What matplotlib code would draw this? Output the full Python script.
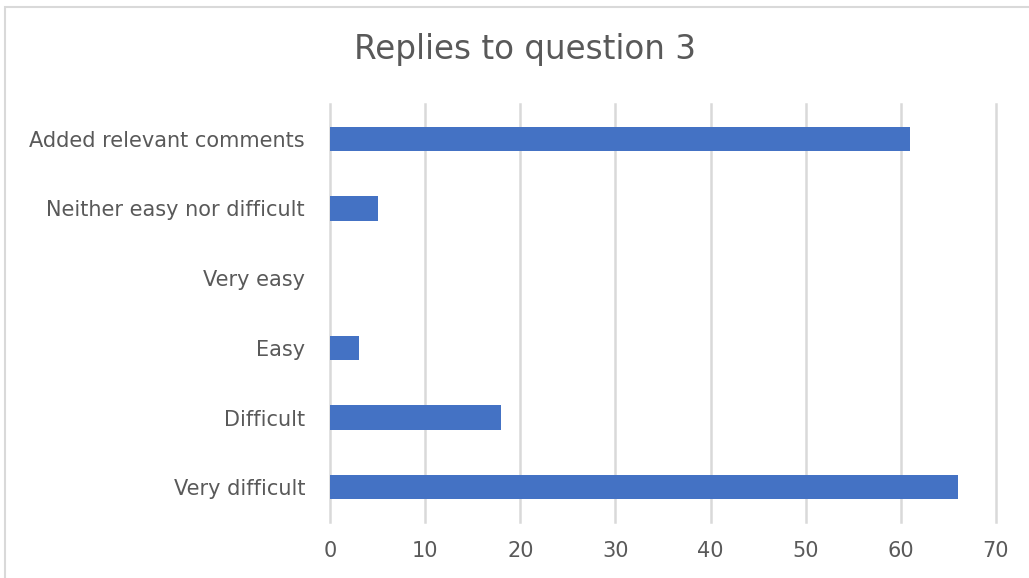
import matplotlib.pyplot as plt
from matplotlib.patches import Rectangle

categories = ['Very difficult', 'Difficult', 'Easy', 'Very easy',
              'Neither easy nor difficult', 'Added relevant comments']
values = [66, 18, 3, 0, 5, 61]
x_ticks = [0, 10, 20, 30, 40, 50, 60, 70]

plt.rcParams['font.family'] = ['DejaVu Sans']

fig = plt.figure(figsize=(10.29, 5.78), dpi=100)
ax = fig.add_axes([330 / 1029, 1 - 522 / 578, 666 / 1029, 418 / 578])

ax.barh(range(len(categories)), values, height=0.35, color='#4472C4', zorder=3)
ax.set_yticks(range(len(categories)))
ax.set_yticklabels(categories)
ax.set_ylim(-0.5, len(categories) - 0.5)
ax.set_xlim(0, 70)
ax.set_xticks(x_ticks)

ax.grid(axis='x', color='#d9d9d9', linewidth=1.8, zorder=0)
for line in ax.get_xgridlines():
    line.set_clip_on(False)
for side in ['top', 'right', 'bottom', 'left']:
    ax.spines[side].set_visible(False)
ax.tick_params(axis='both', length=0, labelsize=15, labelcolor='#595959')
ax.tick_params(axis='y', pad=18)
ax.tick_params(axis='x', pad=14)

fig.text(0.5 + 10 / 1029, 1 - 50 / 578, 'Replies to question 3', ha='center', va='center',
         fontsize=23.5, color='#595959')

fig.patches.append(Rectangle((5 / 1029, -0.05), 1.1, 1 - 7 / 578 + 0.05,
                             transform=fig.transFigure, fill=False,
                             edgecolor='#d9d9d9', linewidth=1.5))

fig.savefig('out.png', dpi=100)
